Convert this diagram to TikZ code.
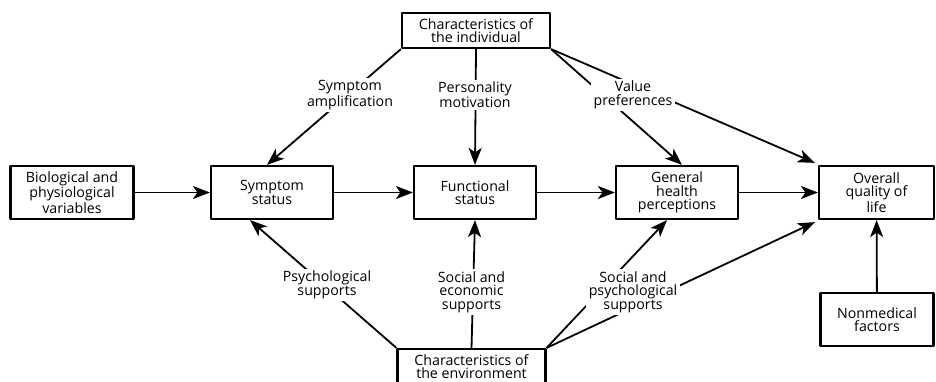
\documentclass[tikz,border=0pt]{standalone}
\usepackage{fontspec}
\setmainfont{Open Sans}
\usetikzlibrary{arrows.meta}
\tikzset{
  box/.style={draw, line width=2.2pt, align=center, inner sep=0pt, minimum height=53pt},
  lbl/.style={fill=white, align=center, inner sep=2.5pt},
}
\begin{document}
\begin{tikzpicture}[x=1pt, y=-1pt, line width=1.8pt, line join=round,
    >={Stealth[length=17pt,width=13pt,inset=4.5pt]},
    font=\fontsize{14.2}{13.6}\selectfont]
  \useasboundingbox (0,0) rectangle (936,382);
  % boxes
  \node[box, minimum width=148pt, minimum height=35pt] (ind) at (476,30.5) {Characteristics of\\the individual};
  \node[box, minimum width=123pt] (bio) at (72,192.5) {Biological and\\physiological\\variables};
  \node[box, minimum width=122pt] (sym) at (272,192.5) {Symptom\\status};
  \node[box, minimum width=122pt] (fun) at (475,192.5) {Functional\\status};
  \node[box, minimum width=122pt] (gen) at (677,192.5) {General\\health\\perceptions};
  \node[box, minimum width=115pt] (qol) at (876.5,192.5) {Overall\\quality of\\life};
  \node[box, minimum width=113pt] (nonmed) at (877,319.5) {Nonmedical\\factors};
  \node[box, minimum width=148pt, minimum height=35pt] (env) at (471.5,366.5) {Characteristics of\\the environment};
  % main row
  \draw[->] (bio) -- (sym);
  \draw[->] (sym) -- (fun);
  \draw[->] (fun) -- (gen);
  \draw[->] (gen) -- (qol);
  % from the individual
  \draw[->] (ind.south west) -- ([xshift=-5pt]sym.north);
  \draw[->] (ind.south) -- (fun.north);
  \draw[->] (ind.south east) -- ([xshift=5pt]gen.north);
  \draw[->] (ind.south east) -- ([shift={(-3pt,2pt)}]qol.north west);
  % from the environment
  \draw[->] (env.north west) -- ([xshift=-22pt]sym.south);
  \draw[->] (env.north) -- (fun.south);
  \draw[->] (env.north east) -- ([xshift=-10pt]gen.south);
  \draw[->] (env.north east) -- ([shift={(-3pt,-2pt)}]qol.south west);
  \draw[->] (nonmed) -- (qol);
  % labels
  \node[lbl] (amp) at (350,95) {Symptom\\amplification};
  \node[lbl] (pers) at (475,95) {Personality\\motivation};
  \node[lbl] (val) at (633,95) {Value\\preferences};
  \node[lbl] (psy) at (327,285) {Psychological\\supports};
  \node[lbl] (soceco) at (471.5,292) {Social and\\economic\\supports};
  \node[lbl] (socpsy) at (633,292) {Social and\\psychological\\supports};
\end{tikzpicture}
\end{document}
